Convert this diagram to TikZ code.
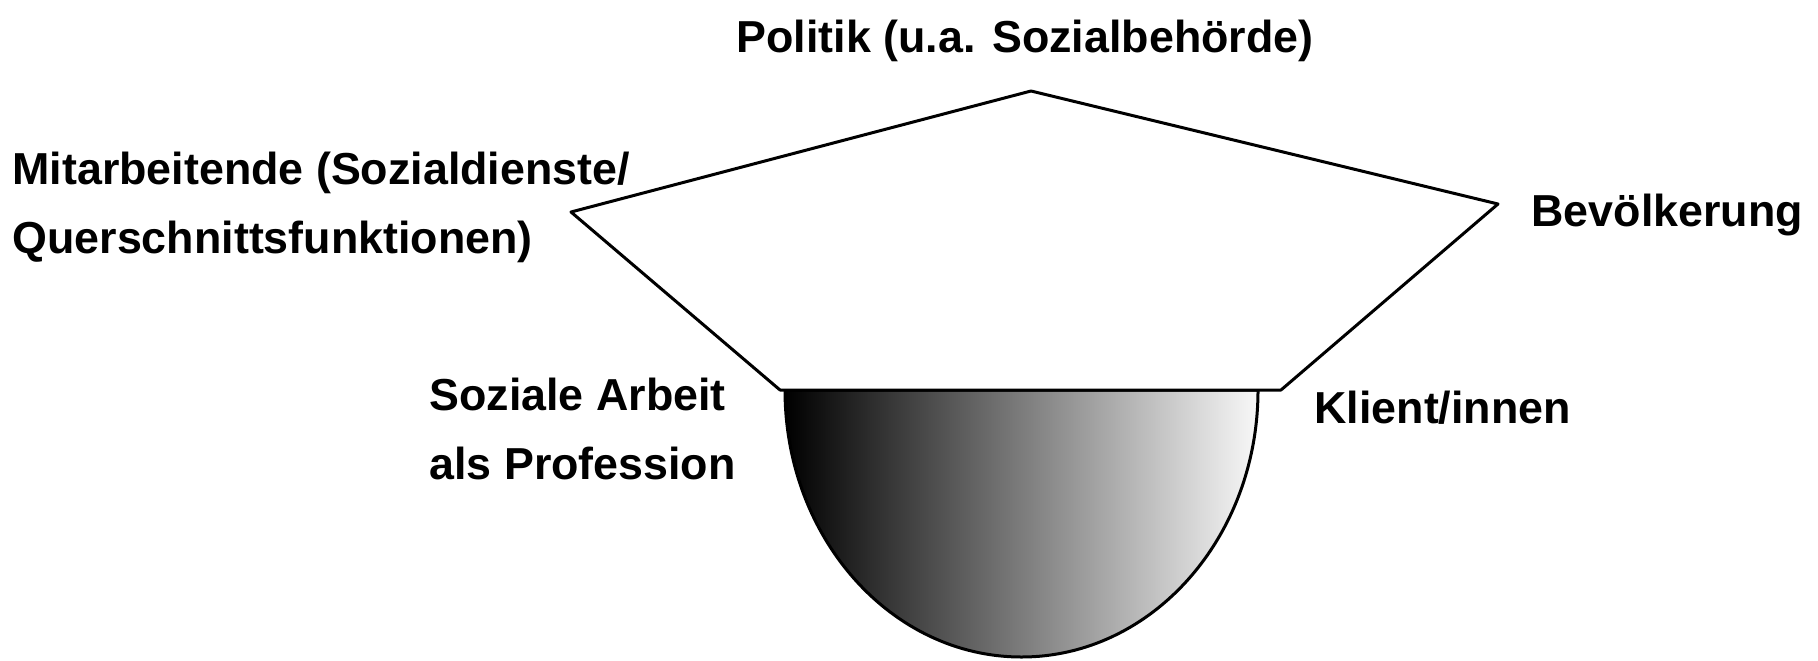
\documentclass[tikz,border=0pt]{standalone}
\usepackage{fontspec}
\setmainfont{Liberation Sans}
\usetikzlibrary{positioning}
\definecolor{shade-left}{RGB}{0,0,0}
\definecolor{shade-right}{RGB}{248,248,248}

\begin{document}
\begin{tikzpicture}[x=0.5pt, y=0.5pt, line width=1.5pt,
lbl/.style={inner sep=0pt, font=\fontsize{22.4}{34.5}\selectfont\bfseries, align=left}]

\useasboundingbox (0,0) rectangle (1818,660);

%% Halbkreis (Soziale Arbeit)
\coordinate[] (m) at (1021.5,270) {};
\draw [left color=shade-left, right color=shade-right] (785,270) arc [start angle=180, end angle=360, x radius=236.5, y radius=267] -- cycle;

%% Fuenfeck
\coordinate[] (pol) at (1031,569) {};
\coordinate[] (mit) at (571,448) {};
\coordinate[] (bev) at (1498,456) {};
\coordinate[] (kli) at (1281,270) {};
\coordinate[] (soz) at (780,270) {};
\draw [fill=white, line join=round] (pol) -- (bev) -- (kli) -- (soz) -- (mit) -- cycle;

\node [lbl, anchor=base] (politik) at (1025,607) {Politik (u.a. Sozialbehörde)};
\node [lbl, anchor=base west] (mitarbeitende) at (11,407) {Mitarbeitende (Sozialdienste/\\Querschnittsfunktionen)};
\node [lbl, anchor=base west] (bevoelkerung) at (1530,434) {Bevölkerung};
\node [lbl, anchor=base west] (sozarbeit) at (428,181) {Soziale Arbeit\\als Profession};
\node [lbl, anchor=base west] (klienten) at (1313,237) {Klient/innen};

\end{tikzpicture}
\end{document}
